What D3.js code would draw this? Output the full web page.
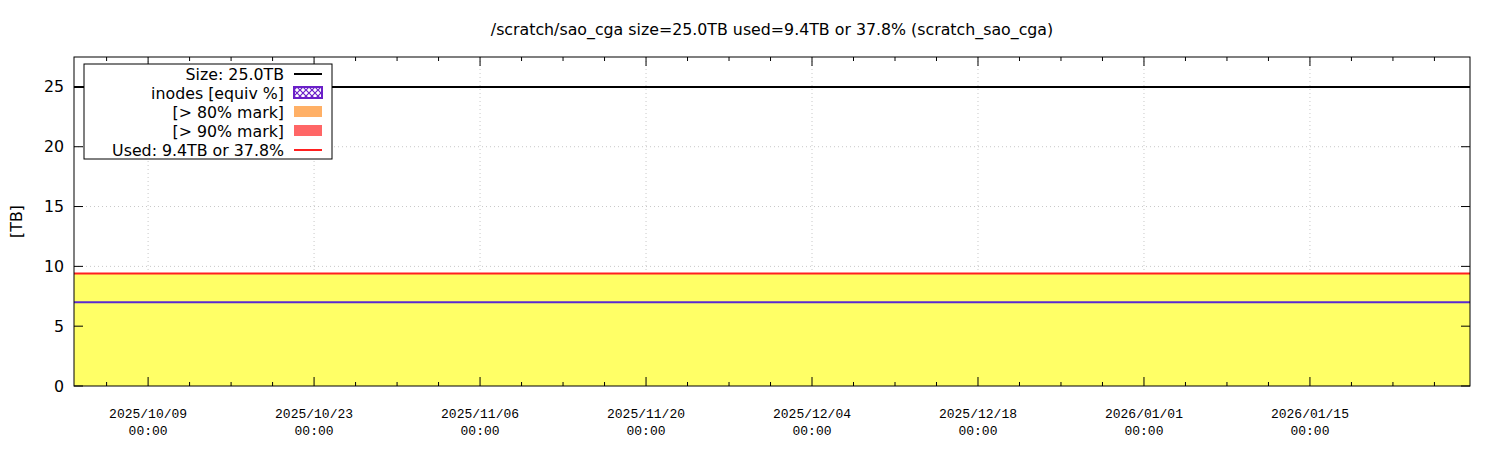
<!DOCTYPE html>
<html>
<head>
<meta charset="utf-8">
<script src="https://cdn.jsdelivr.net/npm/d3@7"></script>
<style>
  body { margin: 0; background: #fff; }
  svg { display: block; }
</style>
</head>
<body>
<script>
// Chart text
const title = "/scratch/sao_cga size=25.0TB used=9.4TB or 37.8% (scratch_sao_cga)";
const yLabel = "[TB]";

// Filesystem size and usage (TB)
const sizeTB = 25.0;
const usedPct = 37.8;

// Sample times and series values
const sampleDates = ["2025-10-02T18:00", "2025-10-20T00:00", "2025-11-10T00:00", "2025-12-01T00:00",
                     "2025-12-22T00:00", "2026-01-12T00:00", "2026-01-28T12:00"];
const usedValues = [9.4, 9.4, 9.4, 9.4, 9.4, 9.4, 9.4];
const inodeValues = [7.0, 7.0, 7.0, 7.0, 7.0, 7.0, 7.0];

// Axis ticks
const yTicks = [0, 5, 10, 15, 20, 25];
const xTickDates = ["2025-10-09", "2025-10-23", "2025-11-06", "2025-11-20",
                    "2025-12-04", "2025-12-18", "2026-01-01", "2026-01-15"];

// Legend entries
const legendLabels = ["Size: 25.0TB", "inodes [equiv %]", "[> 80% mark]", "[> 90% mark]", "Used: 9.4TB or 37.8%"];

const width = 1500, height = 450;
const margin = { left: 74, right: 30, top: 57, bottom: 64 };
const fontSize = 15.8;

const parse = d3.isoParse;
const data = sampleDates.map((d, i) => ({ t: parse(d), used: usedValues[i], inode: inodeValues[i] }));

const svg = d3.select("body").append("svg")
  .attr("width", width).attr("height", height)
  .style("font-family", "'DejaVu Sans', sans-serif");

const x = d3.scaleTime()
  .domain([parse("2025-10-02T18:00"), parse("2026-01-28T12:00")])
  .range([margin.left, width - margin.right]);

const y = d3.scaleLinear()
  .domain([0, 27.5])
  .range([height - margin.bottom, margin.top]);

const x0 = margin.left, x1 = width - margin.right;
const y0 = height - margin.bottom, y1 = margin.top;

// Hatch pattern for inodes key
const defs = svg.append("defs");
const pat = defs.append("pattern").attr("id", "hatch")
  .attr("patternUnits", "userSpaceOnUse").attr("width", 6).attr("height", 6);
pat.append("rect").attr("width", 6).attr("height", 6).attr("fill", "#fff");
pat.append("path").attr("d", "M0,0 L6,6 M6,0 L0,6")
  .attr("stroke", "#6a1fc8").attr("stroke-width", 1.2);

// Grid
const majorX = xTickDates.map(parse);
svg.append("g").selectAll("line").data(majorX).join("line")
  .attr("x1", d => x(d)).attr("x2", d => x(d))
  .attr("y1", y0).attr("y2", y1)
  .attr("stroke", "#c8c8c8").attr("stroke-dasharray", "1,3").attr("stroke-width", 1);
svg.append("g").selectAll("line").data(yTicks.slice(1)).join("line")
  .attr("x1", x0).attr("x2", x1)
  .attr("y1", d => y(d)).attr("y2", d => y(d))
  .attr("stroke", "#c8c8c8").attr("stroke-dasharray", "1,3").attr("stroke-width", 1);

// Used area
svg.append("path").datum(data)
  .attr("fill", "#ffff66")
  .attr("d", d3.area().x(d => x(d.t)).y0(y(0)).y1(d => y(d.used)));

// Used line
svg.append("path").datum(data)
  .attr("fill", "none").attr("stroke", "#ff2020").attr("stroke-width", 2)
  .attr("d", d3.line().x(d => x(d.t)).y(d => y(d.used)));

// Inodes line
svg.append("path").datum(data)
  .attr("fill", "none").attr("stroke", "#5a2ad0").attr("stroke-width", 2)
  .attr("d", d3.line().x(d => x(d.t)).y(d => y(d.inode)));

// Size line
svg.append("line")
  .attr("x1", x0).attr("x2", x1)
  .attr("y1", y(sizeTB)).attr("y2", y(sizeTB))
  .attr("stroke", "#000").attr("stroke-width", 2);

// Border
svg.append("rect")
  .attr("x", x0).attr("y", y1).attr("width", x1 - x0).attr("height", y0 - y1)
  .attr("fill", "none").attr("stroke", "#000").attr("stroke-width", 1);

// Tick marks: major on bottom/top, minor every 3.5 days
const minorX = [];
for (let i = 0; i < majorX.length; i++) {
  [-3.5, 3.5, 7, 10.5].forEach(off => {
    const t = new Date(majorX[i].getTime() + off * 864e5);
    if (x(t) > x0 && x(t) < x1 && (off !== -3.5 || i === 0)) minorX.push(t);
  });
}
const ticks = svg.append("g").attr("stroke", "#000").attr("stroke-width", 1);
majorX.forEach(d => {
  ticks.append("line").attr("x1", x(d)).attr("x2", x(d)).attr("y1", y0).attr("y2", y0 - 9);
  ticks.append("line").attr("x1", x(d)).attr("x2", x(d)).attr("y1", y1).attr("y2", y1 + 9);
});
minorX.forEach(d => {
  ticks.append("line").attr("x1", x(d)).attr("x2", x(d)).attr("y1", y0).attr("y2", y0 - 4);
  ticks.append("line").attr("x1", x(d)).attr("x2", x(d)).attr("y1", y1).attr("y2", y1 + 4);
});
yTicks.forEach(d => {
  ticks.append("line").attr("x1", x0).attr("x2", x0 + 9).attr("y1", y(d)).attr("y2", y(d));
  ticks.append("line").attr("x1", x1).attr("x2", x1 - 9).attr("y1", y(d)).attr("y2", y(d));
});

// Y tick labels
svg.append("g").selectAll("text").data(yTicks).join("text")
  .attr("x", x0 - 10).attr("y", d => y(d)).attr("dy", "0.35em")
  .attr("text-anchor", "end").attr("font-size", fontSize).text(d => d);

// X tick labels
const fmtDate = d3.timeFormat("%Y/%m/%d");
const fmtTime = d3.timeFormat("%H:%M");
const xl = svg.append("g").selectAll("text").data(majorX).join("text")
  .attr("text-anchor", "middle")
  .attr("font-family", "'Liberation Mono', monospace").attr("font-size", 13);
xl.append("tspan").attr("x", d => x(d)).attr("y", 418).text(d => fmtDate(d));
xl.append("tspan").attr("x", d => x(d)).attr("y", 435).text(d => fmtTime(d));

// Title
svg.append("text").attr("x", (x0 + x1) / 2).attr("y", 35)
  .attr("text-anchor", "middle").attr("font-size", fontSize).text(title);

// Y label
svg.append("text")
  .attr("transform", `translate(22,${(y0 + y1) / 2}) rotate(-90)`)
  .attr("text-anchor", "middle").attr("font-size", fontSize).text(yLabel);

// Legend
const lg = svg.append("g");
lg.append("rect").attr("x", 84).attr("y", 64).attr("width", 248).attr("height", 95)
  .attr("fill", "#fff").attr("stroke", "#000").attr("stroke-width", 1);
legendLabels.forEach((lab, i) => {
  const cy = 74 + i * 19;
  lg.append("text").attr("x", 284).attr("y", cy).attr("dy", "0.35em")
    .attr("text-anchor", "end").attr("font-size", fontSize).text(lab);
});
lg.append("line").attr("x1", 294).attr("x2", 322).attr("y1", 74).attr("y2", 74)
  .attr("stroke", "#000").attr("stroke-width", 2);
lg.append("rect").attr("x", 294).attr("y", 87).attr("width", 28).attr("height", 11)
  .attr("fill", "url(#hatch)").attr("stroke", "#6a1fc8").attr("stroke-width", 2);
lg.append("rect").attr("x", 294).attr("y", 106).attr("width", 28).attr("height", 11)
  .attr("fill", "#ffb066");
lg.append("rect").attr("x", 294).attr("y", 125).attr("width", 28).attr("height", 11)
  .attr("fill", "#ff6666");
lg.append("line").attr("x1", 294).attr("x2", 322).attr("y1", 150).attr("y2", 150)
  .attr("stroke", "#ff2020").attr("stroke-width", 2);
</script>
</body>
</html>
